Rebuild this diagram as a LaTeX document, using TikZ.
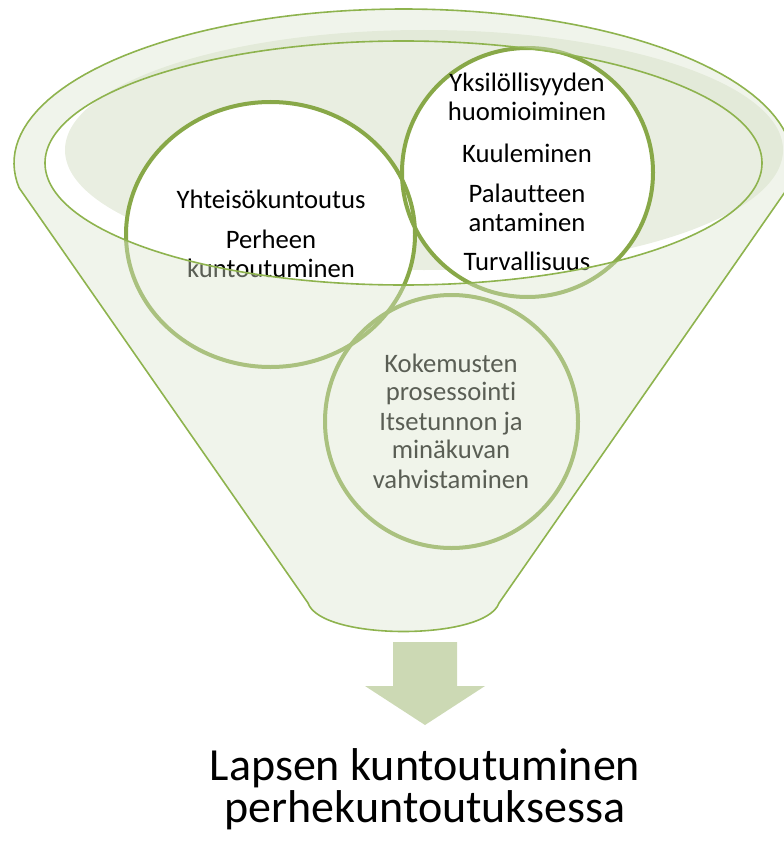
\documentclass[tikz,border=0pt]{standalone}
\usepackage{fontspec}
\setmainfont{Carlito}[Ligatures=NoCommon]
\usepackage{xcolor}
\definecolor{rimgreen}{RGB}{142,179,78}
\definecolor{ringgreen}{RGB}{136,168,72}
\definecolor{rimshade}{RGB}{233,238,225}
\definecolor{frontgreen}{RGB}{219,229,206}
\definecolor{arrowgreen}{RGB}{204,217,180}
\tikzset{ring/.style={draw=ringgreen, line width=3pt, fill=white}}
\tikzset{rim/.style={draw=rimgreen, line width=1.2pt}}
\tikzset{lbl/.style={font=\fontsize{20}{22}\selectfont, inner sep=0pt, anchor=base}}

\begin{document}
\begin{tikzpicture}[
  x=0.75pt,y=-0.75pt,
  front/.style={fill=frontgreen, fill opacity=0.41, even odd rule},
  bigtext/.style={font=\fontsize{34.5}{38}\selectfont, inner sep=0pt, anchor=base}
]
  \useasboundingbox (0,0) rectangle (784,842);
  \clip (0,0) rectangle (784,842);

  % shadow inside the rim
  \fill[rimshade] (424,150) ellipse [x radius=359, y radius=120];

  % the three circles
  \fill[white] (270.5,234.5) ellipse [x radius=144.5, y radius=132.5];
  \fill[white] (527.5,172.5) ellipse [x radius=125.5, y radius=124.5];
  \draw[ring] (451.5,421.5) ellipse [x radius=126.5, y radius=126.5];
  \draw[ring, fill=none] (270.5,234.5) ellipse [x radius=144.5, y radius=132.5];
  \draw[ring, fill=none] (527.5,172.5) ellipse [x radius=125.5, y radius=124.5];

  \foreach \txt/\yy [count=\i] in {Yhteisökuntoutus/208, Perheen/248, kuntoutuminen/277}
    \node[lbl] (a\i) at (271,\yy) {\txt};
  \foreach \txt/\yy [count=\i] in {Yksilöllisyyden/92, huomioiminen/120, Kuuleminen/162,
                                   Palautteen/202, antaminen/231, Turvallisuus/270}
    \node[lbl] (b\i) at (527,\yy) {\txt};
  \foreach \txt/\yy [count=\i] in {Kokemusten/372, prosessointi/400, Itsetunnon ja/430,
                                   minäkuvan/458, vahvistaminen/488}
    \node[lbl] (c\i) at (451,\yy) {\txt};

  % front of the funnel
  \fill[front] plot[domain=170.7:369.3, samples=90, variable=\t]
      ({403.5+389.5*cos(\t)},{163+154*sin(\t)})
    -- (499,603) .. controls (486,641) and (321,641) .. (308,603) -- cycle
    (403.5,163) ellipse [x radius=358.5, y radius=122];
  \draw[rim] plot[domain=170.7:369.3, samples=90, variable=\t]
      ({403.5+389.5*cos(\t)},{163+154*sin(\t)})
    -- (499,603) .. controls (486,641) and (321,641) .. (308,603) -- cycle;
  \draw[rim] (403.5,163) ellipse [x radius=358.5, y radius=122];

  \fill[arrowgreen] (393,642) -- (457,642) -- (457,686) -- (485,686) -- (425,725)
    -- (365,686) -- (393,686) -- cycle;

  \node[bigtext] (res1) at (425,780) {Lapsen kuntoutuminen};
  \node[bigtext] (res2) at (425,822) {perhekuntoutuksessa};
\end{tikzpicture}
\end{document}
